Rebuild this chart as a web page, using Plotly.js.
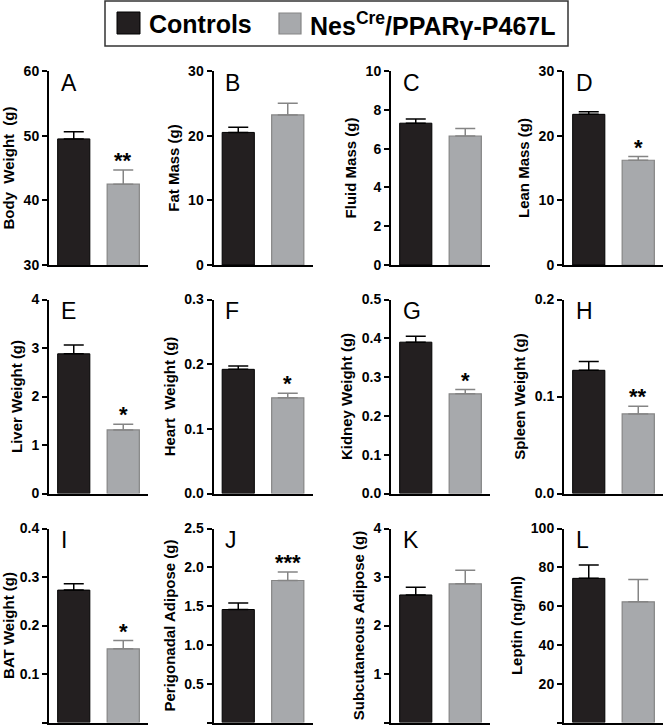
<!DOCTYPE html>
<html>
<head>
<meta charset="utf-8">
<script src="https://cdn.plot.ly/plotly-3.0.1.min.js"></script>
<style>
html,body{margin:0;padding:0;background:#fff;}
#chart{width:664px;height:728px;}
</style>
</head>
<body>
<div id="chart"></div>
<script>
// ---- data ----
const groups = ['Controls', 'Nes<sup>Cre</sup>/PPARγ-P467L'];
const panelLetters = ['A','B','C','D','E','F','G','H','I','J','K','L'];
const yTitles = ['Body\u00a0\u00a0Weight\u00a0\u00a0(g)','Fat Mass (g)','Fluid Mass (g)','Lean Mass (g)',
                 'Liver Weight (g)','Heart\u00a0\u00a0Weight (g)','Kidney Weight (g)','Spleen Weight (g)',
                 'BAT Weight (g)','Perigonadal Adipose (g)','Subcutaneous Adipose (g)','Leptin (ng/ml)'];
const controlMeans = [49.5, 20.5, 7.31, 23.3, 2.88, 0.192, 0.390, 0.127, 0.273, 1.456, 2.63, 74.3];
const controlErrs  = [1.1,  0.8,  0.21, 0.38, 0.18, 0.005, 0.015, 0.009, 0.013, 0.084, 0.16, 6.9];
const mutantMeans  = [42.5, 23.2, 6.65, 16.2, 1.31, 0.148, 0.257, 0.082, 0.152, 1.83,  2.86, 62.2];
const mutantErrs   = [2.2,  1.8,  0.38, 0.57, 0.12, 0.007, 0.011, 0.008, 0.017, 0.11,  0.28, 11.5];
const significance = ['**','','','*','*','*','*','**','*','***','',''];
const yMin  = [30, 0, 0, 0, 0, 0, 0, 0, 0, 0, 0, 0];
const yMax  = [60, 30, 10, 30, 4, 0.3, 0.5, 0.2, 0.4, 2.5, 4, 100];
const yStep = [10, 10, 2, 10, 1, 0.1, 0.1, 0.1, 0.1, 0.5, 1, 20];
const yFormat = ['', '', '', '', '', '.1f', '.1f', '.1f', '.1f', '.1f', '', ''];

// ---- styling / layout ----
const W = 664, H = 728;
const FONT = 'Liberation Sans, Arial, Helvetica, sans-serif';
const BLACK = '#231f20', GRAY = '#a7a9ac', GRAY_LINE = '#858585';
const colLeft = [49, 213.5, 391, 564];
const rowTop = [71, 299.5, 528.5];
const pw = 99, ph = 194;

const traces = [];
const layout = {
  width: W, height: H,
  margin: {l:0, r:0, t:0, b:0},
  paper_bgcolor: '#fff', plot_bgcolor: '#fff',
  showlegend: false,
  barmode: 'overlay',
  font: {family: FONT, color: '#000'},
  annotations: [],
  shapes: []
};

for (let i = 0; i < 12; i++) {
  const col = i % 4, row = Math.floor(i / 4);
  const n = i === 0 ? '' : String(i + 1);
  const xa = 'x' + n, ya = 'y' + n;
  const x0 = colLeft[col], y0 = rowTop[row];
  layout['xaxis' + n] = {
    domain: [x0 / W, (x0 + pw) / W],
    range: [-0.5, 1.5],
    anchor: ya,
    showline: true, linewidth: 2, linecolor: '#000',
    showticklabels: false, ticks: '', showgrid: false, zeroline: false,
    fixedrange: true
  };
  layout['yaxis' + n] = {
    domain: [1 - (y0 + ph) / H, 1 - y0 / H],
    range: [yMin[i], yMax[i]],
    tick0: yMin[i], dtick: yStep[i],
    tickformat: yFormat[i],
    anchor: xa,
    showline: true, linewidth: 2, linecolor: '#000',
    ticks: 'outside', ticklen: 5, tickwidth: 2, tickcolor: '#000',
    showgrid: false, zeroline: false,
    tickfont: {family: FONT, size: 14, weight: 'bold', color: '#000'},
    title: {text: yTitles[i], standoff: 5, font: {family: FONT, size: 15, weight: 'bold', color: '#000'}},
    fixedrange: true
  };
  traces.push({
    type: 'bar', x: [0], y: [controlMeans[i]], xaxis: xa, yaxis: ya,
    width: 0.65, name: groups[0],
    marker: {color: BLACK, line: {color: '#000', width: 1}},
    error_y: {type: 'data', symmetric: false, array: [controlErrs[i]], arrayminus: [0],
              color: '#000', thickness: 1.5, width: 10},
    hoverinfo: 'y'
  });
  traces.push({
    type: 'bar', x: [1], y: [mutantMeans[i]], xaxis: xa, yaxis: ya,
    width: 0.65, name: groups[1],
    marker: {color: GRAY, line: {color: GRAY_LINE, width: 1.2}},
    error_y: {type: 'data', symmetric: false, array: [mutantErrs[i]], arrayminus: [0],
              color: GRAY_LINE, thickness: 1.5, width: 10},
    hoverinfo: 'y'
  });
  // panel letter
  layout.annotations.push({
    text: panelLetters[i], xref: xa + ' domain', yref: ya + ' domain',
    x: 0.1, y: 0.94, xanchor: 'left', yanchor: 'middle', showarrow: false,
    font: {family: FONT, size: 23, color: '#000'}
  });
  // significance stars
  if (significance[i]) {
    layout.annotations.push({
      text: significance[i], xref: xa, yref: ya,
      x: 1, y: mutantMeans[i] + mutantErrs[i], xanchor: 'center', yanchor: 'bottom',
      yshift: -5, showarrow: false,
      font: {family: FONT, size: 22, weight: 'bold', color: '#000'}
    });
  }
}

// ---- legend (drawn in paper coordinates) ----
const px = v => v / W, py = v => 1 - v / H;
layout.shapes.push({type: 'rect', xref: 'paper', yref: 'paper',
  x0: px(105), x1: px(568), y0: py(46), y1: py(1),
  line: {color: '#333', width: 1.5}, fillcolor: 'rgba(0,0,0,0)'});
layout.shapes.push({type: 'rect', xref: 'paper', yref: 'paper',
  x0: px(117), x1: px(140), y0: py(34), y1: py(12),
  line: {color: '#000', width: 1}, fillcolor: BLACK});
layout.shapes.push({type: 'rect', xref: 'paper', yref: 'paper',
  x0: px(279), x1: px(301), y0: py(34), y1: py(13),
  line: {color: GRAY_LINE, width: 1.2}, fillcolor: GRAY});
layout.annotations.push({text: groups[0], xref: 'paper', yref: 'paper',
  x: px(147), y: py(24), xanchor: 'left', yanchor: 'middle', showarrow: false,
  font: {family: FONT, size: 25, weight: 'bold', color: '#000'}});
layout.annotations.push({text: groups[1], xref: 'paper', yref: 'paper',
  x: px(308), y: py(24), xanchor: 'left', yanchor: 'middle', showarrow: false,
  font: {family: FONT, size: 25, weight: 'bold', color: '#000'}});

Plotly.newPlot('chart', traces, layout, {staticPlot: true, displayModeBar: false});
</script>
</body>
</html>
